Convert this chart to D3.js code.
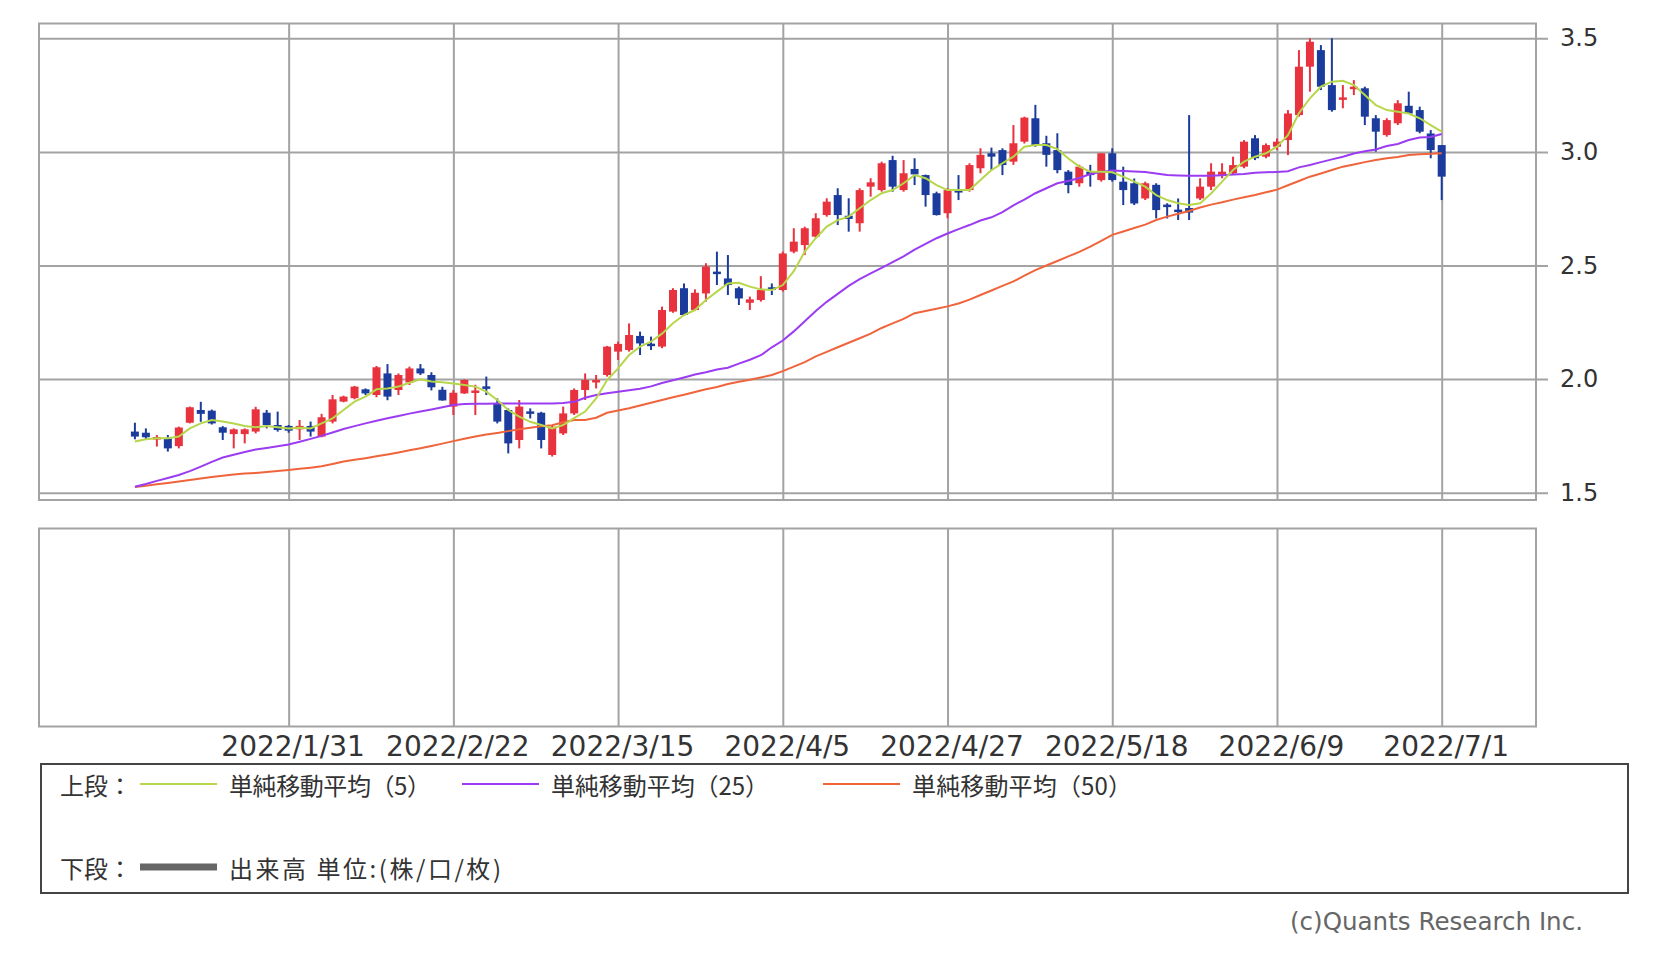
<!DOCTYPE html>
<html>
<head>
<meta charset="utf-8">
<script src="https://cdn.jsdelivr.net/npm/d3@7"></script>
<style>
  body { margin: 0; background: #fff; }
  text { fill: #333; }
</style>
</head>
<body>
<div id="chart"></div>
<script>
// daily candles, 2022/1/10 .. 2022/7/1 (index 0..119)
const open = [
  1.769, 1.764, 1.735, 1.739, 1.705, 1.808, 1.864, 1.861, 1.788, 1.758,
  1.758, 1.769, 1.852, 1.798, 1.794, 1.779, 1.794, 1.747, 1.813, 1.901,
  1.916, 1.955, 1.930, 2.025, 1.952, 1.985, 2.047, 2.018, 1.953, 1.879,
  1.937, 1.940, 1.968, 1.893, 1.864, 1.732, 1.858, 1.852, 1.666, 1.761,
  1.849, 1.952, 1.985, 2.018, 2.121, 2.128, 2.190, 2.156, 2.143, 2.297,
  2.400, 2.304, 2.377, 2.473, 2.443, 2.400, 2.336, 2.348, 2.404, 2.392,
  2.561, 2.590, 2.627, 2.722, 2.810, 2.719, 2.686, 2.847, 2.832, 2.964,
  2.832, 2.925, 2.898, 2.818, 2.730, 2.832, 2.832, 2.928, 2.994, 3.008,
  2.957, 3.045, 3.148, 3.038, 3.008, 2.913, 2.862, 2.913, 2.876, 2.994,
  2.869, 2.862, 2.795, 2.855, 2.768, 2.746, 2.753, 2.795, 2.847, 2.898,
  2.906, 2.935, 3.060, 2.979, 3.023, 3.052, 3.162, 3.375, 3.448, 3.294,
  3.233, 3.280, 3.280, 3.148, 3.074, 3.126, 3.203, 3.184, 3.081, 3.030
];
const high = [
  1.808, 1.783, 1.754, 1.754, 1.791, 1.879, 1.900, 1.866, 1.793, 1.783,
  1.783, 1.878, 1.864, 1.857, 1.798, 1.820, 1.813, 1.847, 1.930, 1.927,
  1.970, 1.959, 2.058, 2.066, 2.025, 2.055, 2.066, 2.030, 1.966, 1.952,
  1.999, 1.975, 2.011, 1.915, 1.871, 1.908, 1.871, 1.856, 1.798, 1.879,
  1.959, 2.025, 2.018, 2.146, 2.165, 2.245, 2.209, 2.187, 2.319, 2.400,
  2.421, 2.395, 2.510, 2.561, 2.546, 2.407, 2.363, 2.453, 2.421, 2.561,
  2.664, 2.671, 2.730, 2.796, 2.840, 2.796, 2.840, 2.884, 2.957, 2.983,
  2.964, 2.972, 2.900, 2.825, 2.840, 2.898, 2.950, 3.016, 3.019, 3.016,
  3.118, 3.155, 3.207, 3.071, 3.082, 2.920, 2.943, 2.943, 2.994, 3.016,
  2.935, 2.883, 2.869, 2.862, 2.774, 2.795, 3.162, 2.884, 2.950, 2.950,
  2.979, 3.052, 3.074, 3.037, 3.059, 3.184, 3.448, 3.500, 3.470, 3.500,
  3.294, 3.316, 3.287, 3.162, 3.148, 3.228, 3.265, 3.199, 3.096, 3.030
];
const low = [
  1.735, 1.732, 1.703, 1.681, 1.695, 1.805, 1.812, 1.800, 1.732, 1.695,
  1.717, 1.761, 1.783, 1.769, 1.764, 1.732, 1.747, 1.744, 1.805, 1.898,
  1.911, 1.930, 1.920, 1.907, 1.930, 1.974, 2.018, 1.950, 1.905, 1.842,
  1.935, 1.842, 1.930, 1.805, 1.673, 1.695, 1.827, 1.695, 1.659, 1.754,
  1.842, 1.908, 1.959, 2.011, 2.084, 2.121, 2.106, 2.128, 2.136, 2.292,
  2.278, 2.300, 2.341, 2.414, 2.370, 2.326, 2.304, 2.341, 2.370, 2.385,
  2.554, 2.546, 2.620, 2.715, 2.678, 2.649, 2.649, 2.803, 2.825, 2.825,
  2.825, 2.854, 2.759, 2.720, 2.708, 2.788, 2.825, 2.906, 2.920, 2.898,
  2.943, 3.037, 3.023, 2.935, 2.906, 2.818, 2.847, 2.847, 2.869, 2.869,
  2.766, 2.766, 2.788, 2.707, 2.707, 2.700, 2.700, 2.788, 2.832, 2.884,
  2.898, 2.928, 2.964, 2.972, 3.008, 2.986, 3.155, 3.265, 3.272, 3.177,
  3.192, 3.250, 3.118, 3.001, 3.067, 3.118, 3.167, 3.082, 2.972, 2.788
];
const close = [
  1.747, 1.744, 1.745, 1.695, 1.787, 1.876, 1.847, 1.805, 1.764, 1.779,
  1.779, 1.867, 1.798, 1.776, 1.773, 1.794, 1.769, 1.832, 1.911, 1.923,
  1.967, 1.937, 2.052, 1.923, 2.018, 2.047, 2.025, 1.964, 1.906, 1.940,
  1.996, 1.950, 1.960, 1.813, 1.717, 1.879, 1.852, 1.732, 1.790, 1.849,
  1.952, 1.996, 1.996, 2.143, 2.155, 2.194, 2.157, 2.148, 2.304, 2.392,
  2.282, 2.380, 2.495, 2.462, 2.414, 2.355, 2.351, 2.392, 2.392, 2.553,
  2.605, 2.664, 2.708, 2.781, 2.722, 2.705, 2.832, 2.866, 2.950, 2.847,
  2.906, 2.901, 2.810, 2.722, 2.832, 2.822, 2.942, 2.987, 2.979, 2.942,
  3.038, 3.151, 3.030, 2.987, 2.920, 2.854, 2.935, 2.898, 2.994, 2.876,
  2.832, 2.773, 2.862, 2.744, 2.760, 2.740, 2.733, 2.847, 2.913, 2.913,
  2.942, 3.045, 2.972, 3.030, 3.045, 3.169, 3.375, 3.485, 3.287, 3.184,
  3.240, 3.287, 3.155, 3.089, 3.140, 3.214, 3.169, 3.089, 3.008, 2.891
];

// simple moving averages as drawn
const ma5 = [
  1.725, 1.735, 1.740, 1.740, 1.747, 1.783, 1.805, 1.820, 1.813, 1.805,
  1.794, 1.788, 1.794, 1.788, 1.783, 1.786, 1.783, 1.805, 1.827, 1.864,
  1.901, 1.923, 1.955, 1.959, 1.967, 1.984, 1.999, 1.989, 1.986, 1.981,
  1.974, 1.967, 1.945, 1.908, 1.864, 1.835, 1.812, 1.798, 1.783, 1.798,
  1.828, 1.857, 1.915, 1.996, 2.047, 2.106, 2.143, 2.165, 2.200, 2.246,
  2.282, 2.304, 2.348, 2.385, 2.421, 2.424, 2.407, 2.395, 2.392, 2.414,
  2.475, 2.561, 2.620, 2.671, 2.700, 2.715, 2.752, 2.788, 2.818, 2.832,
  2.862, 2.898, 2.884, 2.854, 2.832, 2.832, 2.832, 2.876, 2.920, 2.950,
  2.979, 3.023, 3.030, 3.030, 3.012, 2.971, 2.935, 2.913, 2.913, 2.910,
  2.891, 2.869, 2.847, 2.810, 2.788, 2.774, 2.766, 2.774, 2.817, 2.869,
  2.920, 2.957, 2.979, 2.994, 3.023, 3.074, 3.170, 3.236, 3.287, 3.309,
  3.313, 3.294, 3.250, 3.206, 3.184, 3.177, 3.169, 3.148, 3.118, 3.089
];
const ma25 = [
  1.526, 1.538, 1.552, 1.565, 1.578, 1.595, 1.615, 1.636, 1.655, 1.667,
  1.679, 1.690, 1.697, 1.704, 1.712, 1.724, 1.737, 1.750, 1.765, 1.780,
  1.793, 1.805, 1.817, 1.828, 1.838, 1.848, 1.857, 1.866, 1.876, 1.886,
  1.890, 1.891, 1.892, 1.893, 1.893, 1.893, 1.893, 1.893, 1.893, 1.895,
  1.900, 1.918, 1.930, 1.938, 1.944, 1.951, 1.958, 1.968, 1.983, 1.995,
  2.007, 2.020, 2.030, 2.042, 2.050, 2.068, 2.085, 2.105, 2.140, 2.170,
  2.210, 2.255, 2.300, 2.340, 2.375, 2.410, 2.440, 2.465, 2.490, 2.515,
  2.540, 2.570, 2.595, 2.620, 2.641, 2.660, 2.678, 2.698, 2.712, 2.735,
  2.765, 2.790, 2.818, 2.840, 2.862, 2.872, 2.885, 2.903, 2.912, 2.918,
  2.916, 2.914, 2.912, 2.905, 2.898, 2.896, 2.895, 2.895, 2.895, 2.897,
  2.900, 2.903, 2.908, 2.910, 2.912, 2.915, 2.932, 2.942, 2.955, 2.967,
  2.979, 2.993, 3.003, 3.011, 3.026, 3.035, 3.052, 3.063, 3.066, 3.079
];
const ma50 = [
  1.525, 1.531, 1.537, 1.543, 1.549, 1.556, 1.563, 1.569, 1.575, 1.580,
  1.584, 1.587, 1.591, 1.596, 1.600, 1.605, 1.610, 1.616, 1.626, 1.637,
  1.645, 1.652, 1.660, 1.668, 1.677, 1.687, 1.696, 1.706, 1.716, 1.727,
  1.737, 1.747, 1.756, 1.763, 1.771, 1.779, 1.786, 1.792, 1.797, 1.810,
  1.820, 1.820, 1.830, 1.852, 1.862, 1.872, 1.884, 1.896, 1.908, 1.920,
  1.931, 1.943, 1.955, 1.965, 1.978, 1.988, 1.997, 2.007, 2.018, 2.035,
  2.055, 2.075, 2.100, 2.120, 2.140, 2.160, 2.180, 2.200, 2.225, 2.245,
  2.265, 2.290, 2.300, 2.310, 2.320, 2.333, 2.350, 2.370, 2.390, 2.410,
  2.430, 2.455, 2.480, 2.500, 2.520, 2.540, 2.560, 2.583, 2.608, 2.635,
  2.650, 2.665, 2.680, 2.700, 2.715, 2.728, 2.740, 2.755, 2.768, 2.778,
  2.790, 2.800, 2.810, 2.822, 2.834, 2.853, 2.872, 2.891, 2.905, 2.920,
  2.935, 2.945, 2.955, 2.964, 2.972, 2.978, 2.986, 2.990, 2.992, 2.994
];

const dateTickIndex = [14, 29, 44, 59, 74, 89, 104, 119];
const dateTickLabels = ['2022/1/31', '2022/2/22', '2022/3/15', '2022/4/5', '2022/4/27', '2022/5/18', '2022/6/9', '2022/7/1'];
const priceTicks = [1.5, 2.0, 2.5, 3.0, 3.5];

const W = 1670, H = 961;
const upper = { left: 39, right: 1536, top: 23.5, bottom: 500 };
const lower = { top: 528.5, bottom: 726.5 };
const gridColor = '#a3a3a3';
const upColor = '#e8333f', downColor = '#1b3c9c';

const x = d3.scaleLinear().domain([0, 119]).range([134.9, 1441.7]);
const y = d3.scaleLinear().domain([1.5, 3.5]).range([492.7, 38.3]);

const svg = d3.select('#chart').append('svg')
  .attr('width', W)
  .attr('height', H);

// panels
[[upper.top, upper.bottom], [lower.top, lower.bottom]].forEach(([t, b]) => {
  svg.append('rect')
    .attr('x', upper.left).attr('y', t)
    .attr('width', upper.right - upper.left).attr('height', b - t)
    .attr('fill', '#fff')
    .attr('stroke', gridColor).attr('stroke-width', 2);
});

function styleGrid(g) {
  g.select('.domain').remove();
  g.selectAll('.tick line').attr('stroke', gridColor).attr('stroke-width', 2);
}

// vertical grid, upper panel
svg.append('g')
  .attr('transform', `translate(0,${upper.bottom})`)
  .call(d3.axisBottom(x).tickValues(dateTickIndex).tickFormat('').tickSize(-(upper.bottom - upper.top)))
  .call(styleGrid);

// vertical grid + date labels, lower panel
svg.append('g')
  .attr('transform', `translate(0,${lower.bottom})`)
  .call(d3.axisBottom(x).tickValues(dateTickIndex)
    .tickFormat((d, i) => dateTickLabels[i])
    .tickSize(-(lower.bottom - lower.top)).tickPadding(10))
  .call(styleGrid)
  .call(g => g.selectAll('.tick text')
    .attr('dx', 4)
    .style('font-family', '"DejaVu Sans", sans-serif')
    .style('font-size', '28px')
    .style('fill', '#333'));

// horizontal grid + price labels on the right
svg.append('g')
  .attr('transform', `translate(1548,0)`)
  .call(d3.axisRight(y).tickValues(priceTicks).tickFormat(d3.format('.1f'))
    .tickSize(-(1548 - upper.left)).tickPadding(12))
  .call(styleGrid)
  .call(g => g.selectAll('.tick text')
    .style('font-family', '"DejaVu Sans", sans-serif')
    .style('font-size', '24px')
    .style('fill', '#333'));

// candles
const idx = d3.range(close.length);
const candles = svg.append('g').selectAll('g')
  .data(idx)
  .enter().append('g');

candles.append('line')
  .attr('x1', i => x(i)).attr('x2', i => x(i))
  .attr('y1', i => y(high[i])).attr('y2', i => y(low[i]))
  .attr('stroke', i => close[i] >= open[i] ? upColor : downColor)
  .attr('stroke-width', 2);

candles.append('rect')
  .attr('x', i => x(i) - 4)
  .attr('width', 8)
  .attr('y', i => y(Math.max(open[i], close[i])))
  .attr('height', i => Math.max(2.5, Math.abs(y(open[i]) - y(close[i]))))
  .attr('fill', i => close[i] >= open[i] ? upColor : downColor);

// moving averages
const line = d3.line().x((d, i) => x(i)).y(d => y(d));
[[ma50, '#f0643c'], [ma25, '#9b3cf2'], [ma5, '#b7d64a']].forEach(([s, c]) => {
  svg.append('path')
    .datum(s)
    .attr('fill', 'none')
    .attr('stroke', c)
    .attr('stroke-width', 2)
    .attr('d', line);
});

// legend
const legend = svg.append('g')
  .style('font-family', '"Noto Sans CJK JP", sans-serif')
  .style('font-size', '24px');

legend.append('rect')
  .attr('x', 41).attr('y', 764)
  .attr('width', 1587).attr('height', 129)
  .attr('fill', 'none')
  .attr('stroke', '#444').attr('stroke-width', 2);

const legendItems = [
  { x: 140, y: 784, color: '#b7d64a', w: 2, label: '単純移動平均（5）', len: 202 },
  { x: 462, y: 784, color: '#9b3cf2', w: 2, label: '単純移動平均（25）', len: 218 },
  { x: 823, y: 784, color: '#f0643c', w: 2, label: '単純移動平均（50）', len: 220 },
  { x: 140, y: 867, color: '#666', w: 7, label: '出来高 単位:(株/口/枚)', len: 272 }
];

legend.append('text').attr('x', 60).attr('y', 784).attr('dominant-baseline', 'central').text('上段：');
legend.append('text').attr('x', 60).attr('y', 867).attr('dominant-baseline', 'central').text('下段：');

legendItems.forEach(d => {
  legend.append('line')
    .attr('x1', d.x).attr('x2', d.x + 77)
    .attr('y1', d.y).attr('y2', d.y)
    .attr('stroke', d.color).attr('stroke-width', d.w);
  legend.append('text')
    .attr('x', d.x + 89).attr('y', d.y)
    .attr('dominant-baseline', 'central')
    .attr('textLength', d.len).attr('lengthAdjust', 'spacing')
    .text(d.label);
});

svg.append('text')
  .attr('x', 1583).attr('y', 930)
  .attr('text-anchor', 'end')
  .attr('textLength', 293).attr('lengthAdjust', 'spacingAndGlyphs')
  .style('font-family', '"DejaVu Sans", sans-serif')
  .style('font-size', '24px')
  .style('fill', '#666')
  .text('(c)Quants Research Inc.');
</script>
</body>
</html>
